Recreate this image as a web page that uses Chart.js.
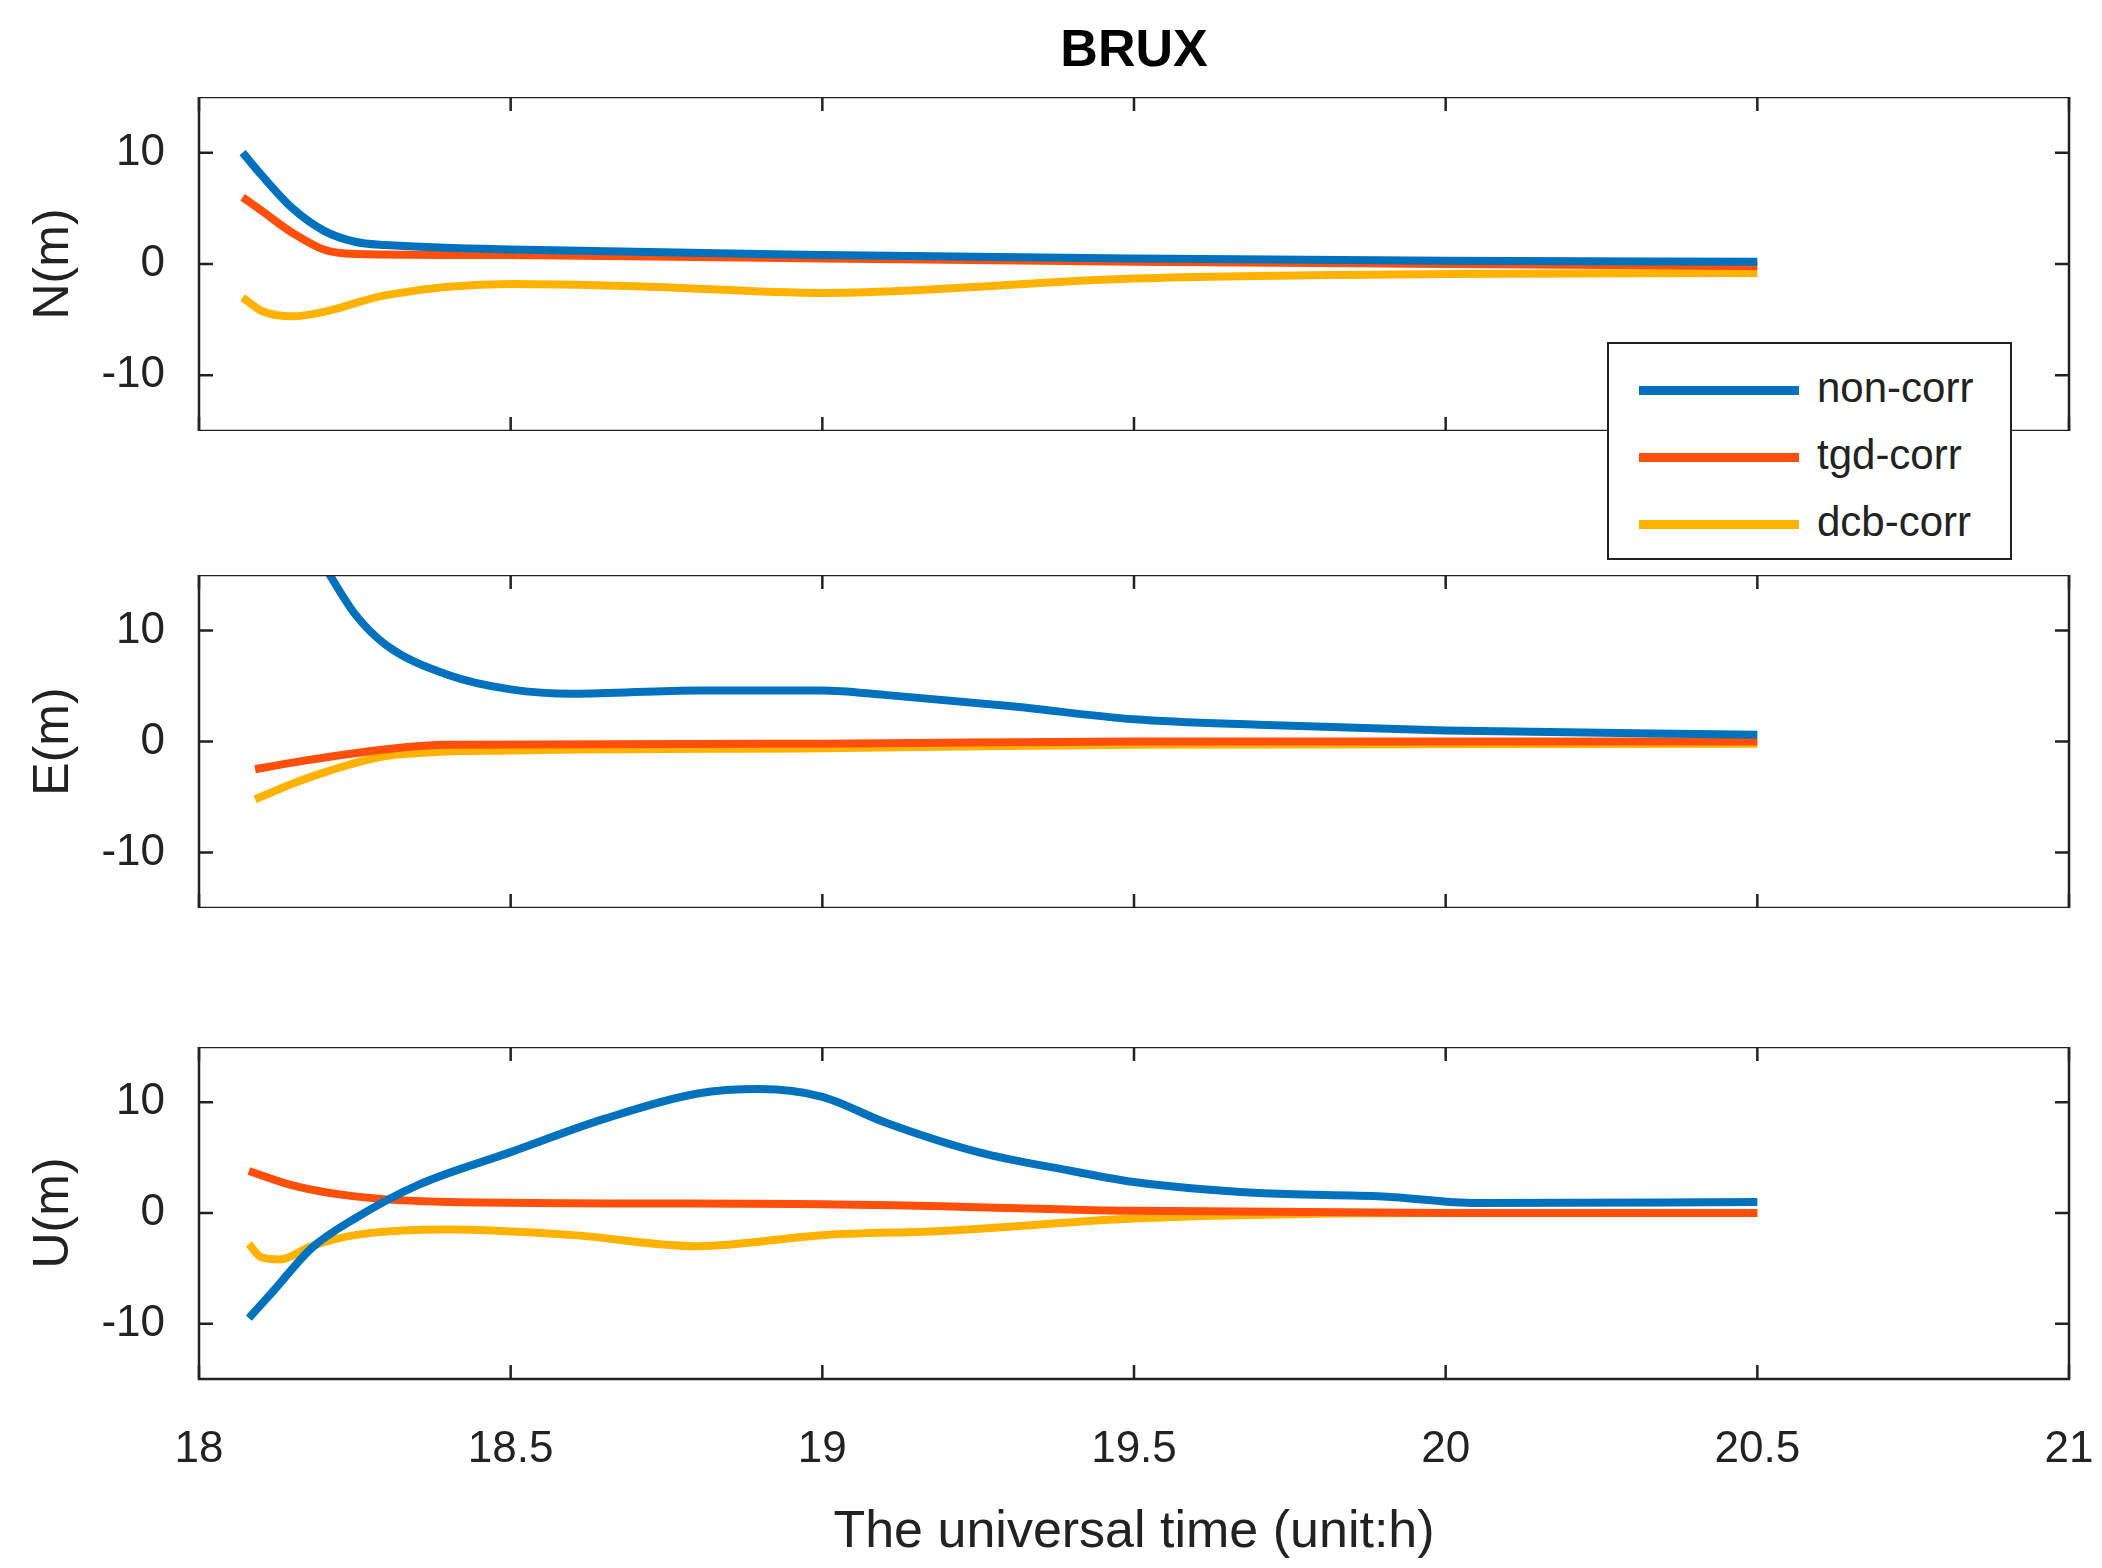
<!DOCTYPE html>
<html><head><meta charset="utf-8">
<script src="https://cdn.jsdelivr.net/npm/chart.js@4"></script>
<style>
body{margin:0;width:2102px;height:1568px;background:#fff;position:relative;overflow:hidden;font-family:"Liberation Sans",Arial,sans-serif}
canvas{position:absolute;left:0}
#title{position:absolute;top:18px;left:0;width:2268px;text-align:center;font-weight:bold;font-size:52px;color:#000}
#legend{position:absolute;left:1607px;top:342px;width:401px;height:214px;border:2px solid #222;background:#fff;z-index:5}
.it{position:absolute;left:30px;font-size:42px;color:#222}
.it span{display:inline-block;width:160px;height:9px;vertical-align:middle;margin-right:18px}
</style></head><body>
<div id="title">BRUX</div>
<canvas id="c1"></canvas><canvas id="c2"></canvas><canvas id="c3"></canvas>
<div id="legend">
<div class="it" style="top:20px"><span style="background:#0072BD"></span>non-corr</div>
<div class="it" style="top:87px"><span style="background:#FF4F0A"></span>tgd-corr</div>
<div class="it" style="top:154px"><span style="background:#FFB300"></span>dcb-corr</div>
</div>
<script>
const seriesNames=["non-corr","tgd-corr","dcb-corr"];
const colors=["#0072BD","#FF4F0A","#FFB300"];
const xTicks=[18,18.5,19,19.5,20,20.5,21];
const yTicks=[-10,0,10];
// N
const N_non_x=[18.07,18.1,18.15,18.2,18.25,18.3,18.5,19,19.5,20,20.5];
const N_non_y=[10,8,5,3,2,1.7,1.3,0.8,0.5,0.3,0.2];
const N_tgd_x=[18.07,18.1,18.15,18.2,18.25,18.5,19,19.5,20,20.5];
const N_tgd_y=[6,4.8,2.8,1.3,0.9,0.8,0.5,0.2,0,-0.2];
const N_dcb_x=[18.07,18.1,18.15,18.2,18.3,18.5,18.7,19,19.5,20,20.5];
const N_dcb_y=[-3,-4.2,-4.7,-4.3,-2.8,-1.8,-2,-2.6,-1.3,-0.9,-0.8];
// E
const E_non_x=[18.18,18.21,18.25,18.3,18.4,18.5,18.6,18.8,19,19.1,19.3,19.5,19.7,20,20.5];
const E_non_y=[18,15,11.5,8.7,6,4.7,4.3,4.6,4.6,4.2,3.2,2,1.5,1,0.6];
const E_tgd_x=[18.09,18.15,18.3,18.4,19,19.5,20.5];
const E_tgd_y=[-2.5,-1.9,-0.7,-0.3,-0.2,0,0];
const E_dcb_x=[18.09,18.15,18.2,18.3,18.5,19,19.5,20.5];
const E_dcb_y=[-5.2,-3.8,-2.8,-1.3,-0.8,-0.6,-0.3,-0.2];
// U
const U_non_x=[18.08,18.12,18.18,18.25,18.35,18.5,18.65,18.8,18.9,19,19.1,19.25,19.4,19.5,19.7,19.9,20.05,20.5];
const U_non_y=[-9.5,-7,-3.2,-0.5,2.5,5.5,8.5,10.8,11.2,10.5,8.2,5.5,3.8,2.8,1.8,1.5,0.9,1];
const U_tgd_x=[18.08,18.15,18.25,18.4,19,19.5,20,20.5];
const U_tgd_y=[3.8,2.5,1.5,1,0.8,0.2,0,0];
const U_dcb_x=[18.08,18.1,18.13,18.18,18.25,18.4,18.6,18.8,19,19.2,19.5,20,20.5];
const U_dcb_y=[-2.8,-4,-4.2,-3,-2,-1.5,-2,-3,-2,-1.6,-0.5,0,0];

const pts=(xs,ys)=>xs.map((x,i)=>({x,y:ys[i]}));
const frame={id:'frame',afterDraw(ch){const c=ch.ctx,a=ch.chartArea;c.save();c.strokeStyle='#222';c.lineWidth=2.5;
c.strokeRect(a.left,a.top,a.right-a.left,a.bottom-a.top);
const xs=ch.scales.x,ys=ch.scales.y;
xTicks.forEach(t=>{const p=xs.getPixelForValue(t);c.beginPath();c.moveTo(p,a.bottom);c.lineTo(p,a.bottom-14);c.moveTo(p,a.top);c.lineTo(p,a.top+14);c.stroke();});
yTicks.forEach(t=>{const p=ys.getPixelForValue(t);c.beginPath();c.moveTo(a.left,p);c.lineTo(a.left+14,p);c.moveTo(a.right,p);c.lineTo(a.right-14,p);c.stroke();});
c.restore();}};
function make(id,top,height,label,data,bottom){
 const cv=document.getElementById(id);cv.style.top=top+'px';cv.width=2102;cv.height=height;cv.style.width='2102px';cv.style.height=height+'px';
 new Chart(cv,{type:'line',data:{datasets:data.map((d,i)=>({label:seriesNames[i],data:d,borderColor:colors[i],borderWidth:8,pointRadius:0,tension:0.4,cubicInterpolationMode:'monotone'}))},
 options:{responsive:false,animation:false,devicePixelRatio:1,layout:{padding:{left:0,right:33,top:0,bottom:0}},
 plugins:{legend:{display:false},tooltip:{enabled:false}},
 scales:{x:{type:'linear',min:18,max:21,afterBuildTicks(s){s.ticks=xTicks.map(v=>({value:v}));},
   grid:{display:false},border:{display:false},
   ticks:{display:bottom,color:'#222',font:{size:44,family:'Liberation Sans'},padding:36,maxRotation:0,callback:v=>String(v)},
   title:{display:bottom,text:'The universal time (unit:h)',color:'#222',font:{size:52,family:'Liberation Sans'},padding:{top:6}},
   afterFit(s){s.height=bottom?height-332:0;s.paddingLeft=0;s.paddingRight=0;}},
  y:{min:-15,max:15,afterBuildTicks(s){s.ticks=yTicks.map(v=>({value:v}));},
   grid:{display:false},border:{display:false},
   ticks:{color:'#222',font:{size:44,family:'Liberation Sans'},padding:26,callback:v=>String(v)},
   title:{display:true,text:label,color:'#222',font:{size:50,family:'Liberation Sans'},padding:{top:24}},
   afterFit(s){s.width=199;s.paddingTop=0;s.paddingBottom=0;}}}},plugins:[frame]});
}
make('c1',97,334,'N(m)',[pts(N_non_x,N_non_y),pts(N_tgd_x,N_tgd_y),pts(N_dcb_x,N_dcb_y)],false);
make('c2',575,333,'E(m)',[pts(E_non_x,E_non_y),pts(E_tgd_x,E_tgd_y),pts(E_dcb_x,E_dcb_y)],false);
make('c3',1047,521,'U(m)',[pts(U_non_x,U_non_y),pts(U_tgd_x,U_tgd_y),pts(U_dcb_x,U_dcb_y)],true);
</script></body></html>
